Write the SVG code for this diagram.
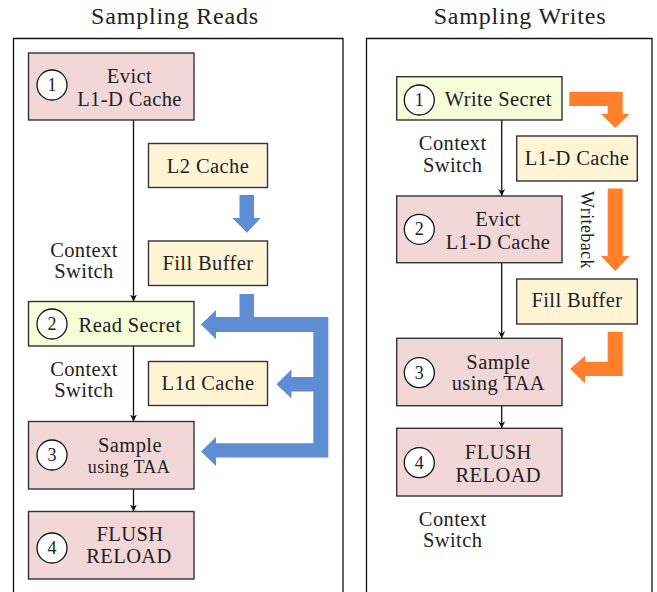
<svg xmlns="http://www.w3.org/2000/svg" width="657" height="592" viewBox="0 0 657 592" font-family="'Liberation Serif', 'DejaVu Serif', serif">
  <style>
    text { font-family: "Liberation Serif", "DejaVu Serif", serif; fill: #222; }
    .title { font-size: 24px; letter-spacing: 0.8px; text-anchor: middle; }
    .lbl { font-size: 20.5px; letter-spacing: 0.4px; text-anchor: middle; }
    .sm { font-size: 18px; letter-spacing: 0.4px; text-anchor: middle; }
    .num { font-size: 18px; text-anchor: middle; }
    .frame { fill: none; stroke: #111; stroke-width: 1.3; }
    .box { stroke: #333; stroke-width: 1.4; }
    .step { fill: #f2d7d9; }
    .secret { fill: #f4fcd8; }
    .cache { fill: #fff5d6; }
    .circ { fill: #fff; stroke: #111; stroke-width: 1.3; }
    .wire { fill: none; stroke: #111; stroke-width: 1.3; }
    .blue { fill: #5f8dd4; }
    .orange { fill: #ff7f2a; }
  </style>
  <defs>
    <marker id="stealth" viewBox="0 0 10 10" refX="10" refY="5" markerWidth="7" markerHeight="8" markerUnits="userSpaceOnUse" orient="auto">
      <path d="M0,0 L10,5 L0,10 L3,5 Z" fill="#111"/>
    </marker>
  </defs>

  <!-- panel titles -->
  <text class="title" x="175" y="24">Sampling Reads</text>
  <text class="title" x="520" y="24">Sampling Writes</text>

  <!-- panel frames -->
  <path class="frame" d="M13.5,600 V38.5 H343 V600"/>
  <path class="frame" d="M366.5,600 V38.5 H652 V600"/>

  <!-- connectors -->
  <g id="connectors">
    <!-- left: sequence -->
    <line class="wire" x1="133.5" y1="120" x2="133.5" y2="301.5" marker-end="url(#stealth)"/>
    <line class="wire" x1="133.5" y1="346" x2="133.5" y2="421.5" marker-end="url(#stealth)"/>
    <line class="wire" x1="133.5" y1="489" x2="133.5" y2="511.5" marker-end="url(#stealth)"/>
    <!-- left: data flow -->
    <polygon class="blue" points="239.5,195 254,195 254,218 260.7,218 247,232.7 232.3,218 239.5,218"/>
    <polygon class="blue" points="239.5,294 254,294 254,317 328.3,317 328.3,457.5 216,457.5 216,466 201,451.5 216,437 216,443.3 313.3,443.3 313.3,391.5 291.5,391.5 291.5,398.5 276.5,384.3 291.5,369.5 291.5,377 313.3,377 313.3,332 216,332 216,339.3 201,324.5 216,310 216,317 239.5,317"/>
    <!-- right: sequence -->
    <line class="wire" x1="501.7" y1="120" x2="501.7" y2="196" marker-end="url(#stealth)"/>
    <line class="wire" x1="501.7" y1="262.7" x2="501.7" y2="338.3" marker-end="url(#stealth)"/>
    <line class="wire" x1="501.7" y1="405.7" x2="501.7" y2="428.3" marker-end="url(#stealth)"/>
    <!-- right: data flow -->
    <polygon class="orange" points="569.3,91.7 622.7,91.7 622.7,114 629.5,114 615.2,128 601,114 607.7,114 607.7,106 569.3,106"/>
    <polygon class="orange" points="607.7,188.5 622.7,188.5 622.7,256 629.5,256 615.2,271 601,256 607.7,256"/>
    <polygon class="orange" points="607.7,331.7 622.7,331.7 622.7,376 585,376 585,383.3 570,369 585,355.7 585,361.7 607.7,361.7"/>
    <text class="sm" transform="translate(581,230) rotate(90)">Writeback</text>
  </g>

  <!-- left panel nodes -->
  <g id="r-evict">
    <rect class="box step" x="28.5" y="53" width="165.5" height="67"/>
    <circle class="circ" cx="52" cy="85" r="15"/>
    <text class="num" x="52" y="91">1</text>
    <text class="lbl" x="129.5" y="83">Evict</text>
    <text class="lbl" x="129.5" y="106">L1-D Cache</text>
  </g>
  <g id="r-l2">
    <rect class="box cache" x="148.5" y="143.5" width="119" height="44"/>
    <text class="lbl" x="208" y="173">L2 Cache</text>
  </g>
  <g id="r-fill">
    <rect class="box cache" x="148.5" y="241" width="119" height="44.5"/>
    <text class="lbl" x="208" y="270">Fill Buffer</text>
  </g>
  <g id="r-cs1">
    <text class="lbl" x="84" y="256.5">Context</text>
    <text class="lbl" x="84" y="278">Switch</text>
  </g>
  <g id="r-read">
    <rect class="box secret" x="28.5" y="301.5" width="165.5" height="44.5"/>
    <circle class="circ" cx="52" cy="324" r="15"/>
    <text class="num" x="52" y="330">2</text>
    <text class="lbl" x="130" y="331.5">Read Secret</text>
  </g>
  <g id="r-cs2">
    <text class="lbl" x="84" y="376">Context</text>
    <text class="lbl" x="84" y="397">Switch</text>
  </g>
  <g id="r-l1d">
    <rect class="box cache" x="148.5" y="361.5" width="119" height="44"/>
    <text class="lbl" x="208" y="390">L1d Cache</text>
  </g>
  <g id="r-sample">
    <rect class="box step" x="28.5" y="421.5" width="165.5" height="67.5"/>
    <circle class="circ" cx="52" cy="455" r="15"/>
    <text class="num" x="52" y="461">3</text>
    <text class="lbl" x="130" y="451.5">Sample</text>
    <text class="sm" x="129" y="473">using TAA</text>
  </g>
  <g id="r-flush">
    <rect class="box step" x="28.5" y="511.5" width="165.5" height="67.5"/>
    <circle class="circ" cx="52" cy="548" r="15"/>
    <text class="num" x="52" y="554">4</text>
    <text class="lbl" x="130" y="540.5">FLUSH</text>
    <text class="lbl" x="129" y="563">RELOAD</text>
  </g>

  <!-- right panel nodes -->
  <g id="w-write">
    <rect class="box secret" x="396.7" y="76.7" width="165.3" height="43.3"/>
    <circle class="circ" cx="419.3" cy="100" r="15"/>
    <text class="num" x="419.3" y="106">1</text>
    <text class="lbl" x="498.3" y="105.5">Write Secret</text>
  </g>
  <g id="w-l1d">
    <rect class="box cache" x="516.7" y="136" width="120.6" height="45"/>
    <text class="lbl" x="577" y="165">L1-D Cache</text>
  </g>
  <g id="w-cs1">
    <text class="lbl" x="452.7" y="150">Context</text>
    <text class="lbl" x="452.7" y="171.5">Switch</text>
  </g>
  <g id="w-evict">
    <rect class="box step" x="396.7" y="196" width="165.3" height="66.7"/>
    <circle class="circ" cx="419.3" cy="229.3" r="15"/>
    <text class="num" x="419.3" y="235.3">2</text>
    <text class="lbl" x="498" y="225.5">Evict</text>
    <text class="lbl" x="498" y="248.5">L1-D Cache</text>
  </g>
  <g id="w-fill">
    <rect class="box cache" x="516.7" y="279" width="120.6" height="45"/>
    <text class="lbl" x="577" y="307">Fill Buffer</text>
  </g>
  <g id="w-sample">
    <rect class="box step" x="396.7" y="338.3" width="165.3" height="67.4"/>
    <circle class="circ" cx="419.3" cy="372.7" r="15"/>
    <text class="num" x="419.3" y="378.7">3</text>
    <text class="lbl" x="498.3" y="368.5">Sample</text>
    <text class="lbl" x="498.3" y="390">using TAA</text>
  </g>
  <g id="w-flush">
    <rect class="box step" x="396.7" y="428.3" width="165.3" height="67.7"/>
    <circle class="circ" cx="419.3" cy="462.7" r="15"/>
    <text class="num" x="419.3" y="468.7">4</text>
    <text class="lbl" x="498.3" y="459">FLUSH</text>
    <text class="lbl" x="498.3" y="481.7">RELOAD</text>
  </g>
  <g id="w-cs2">
    <text class="lbl" x="452.7" y="526">Context</text>
    <text class="lbl" x="452.7" y="547">Switch</text>
  </g>
</svg>
